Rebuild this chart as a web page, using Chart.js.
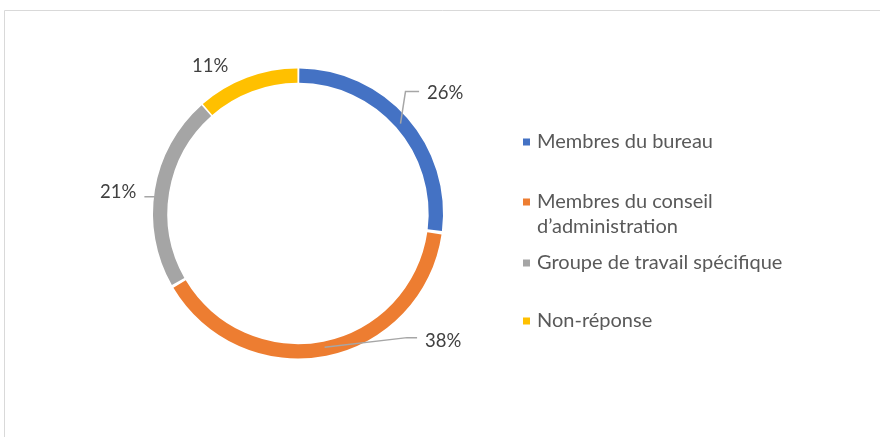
<!DOCTYPE html>
<html>
<head>
<meta charset="utf-8">
<script src="https://cdn.jsdelivr.net/npm/chart.js@4"></script>
<style>
    html, body { margin: 0; padding: 0; background: #fff; }
    #wrap { width: 880px; height: 437px; position: relative; }
</style>
</head>
<body>
<div id="wrap"><canvas id="donutChart"></canvas></div>
<script>
// Chart data
const categories = ['Membres du bureau', 'Membres du conseil d\u2019administration', 'Groupe de travail sp\u00e9cifique', 'Non-r\u00e9ponse'];
const percentValues = [26, 38, 21, 11];
const sliceColors = ['#4472C4', '#ED7D31', '#A5A5A5', '#FFC000'];

// Label placement (polar: angle from top, clockwise, and distance from center)
const labelAngles = [50.8, 131.2, 276.7, 329.3];
const labelRadius = [190, 193, 181, 172];
const leaderStyle = ['elbow', 'straight', 'short', 'none'];

// Legend rows (y of first line for each entry)
const legendX = 523;
const legendRowsY = [142, 202, 263, 321];
const legendLineHeight = 25;
const legendMaxWidth = 262;

const FONT = 'Lato, "Open Sans", sans-serif';

// Draws the frame, data labels with leader lines, and the legend
const decorPlugin = {
    id: 'decor',
    afterDraw(chart) {
        const ctx = chart.ctx;
        const meta = chart.getDatasetMeta(0);

        ctx.save();

        // outer frame
        ctx.strokeStyle = '#D9D9D9';
        ctx.lineWidth = 1;
        ctx.beginPath();
        ctx.moveTo(880, 10.5);
        ctx.lineTo(4.5, 10.5);
        ctx.lineTo(4.5, 437);
        ctx.stroke();

        // data labels
        ctx.font = '18.5px ' + FONT;
        ctx.textBaseline = 'middle';
        ctx.textAlign = 'center';
        meta.data.forEach((arc, i) => {
            const cx = arc.x, cy = arc.y;
            const a = labelAngles[i] * Math.PI / 180;
            const lx = cx + labelRadius[i] * Math.sin(a);
            const ly = cy - labelRadius[i] * Math.cos(a);
            const text = percentValues[i] + '%';
            const w = ctx.measureText(text).width;

            // leader line
            const midAngle = (arc.startAngle + arc.endAngle) / 2;
            const midR = (arc.innerRadius + arc.outerRadius) / 2;
            ctx.strokeStyle = '#A6A6A6';
            ctx.lineWidth = 1.5;
            if (leaderStyle[i] === 'elbow') {
                const px = cx + midR * Math.cos(midAngle);
                const py = cy + midR * Math.sin(midAngle);
                ctx.beginPath();
                ctx.moveTo(px, py);
                ctx.lineTo(px + 5, ly - 2);
                ctx.lineTo(lx - w / 2 - 8, ly - 2);
                ctx.stroke();
            } else if (leaderStyle[i] === 'straight') {
                const px = cx + midR * Math.cos(midAngle);
                const py = cy + midR * Math.sin(midAngle);
                ctx.beginPath();
                ctx.moveTo(px, py);
                ctx.lineTo(lx - w / 2 - 18, ly - 3);
                ctx.lineTo(lx - w / 2 - 8, ly - 3);
                ctx.stroke();
            } else if (leaderStyle[i] === 'short') {
                const px = cx + arc.outerRadius * Math.sin(a);
                const py = cy - arc.outerRadius * Math.cos(a);
                ctx.beginPath();
                ctx.moveTo(px, py);
                ctx.lineTo(lx + w / 2 + 8, py);
                ctx.stroke();
            }

            ctx.fillStyle = '#404040';
            ctx.fillText(text, lx, ly);
        });

        // legend
        ctx.font = '20px ' + FONT;
        ctx.textAlign = 'left';
        categories.forEach((label, i) => {
            // wrap words within max width
            const words = label.split(' ');
            const lines = [];
            let line = '';
            words.forEach(word => {
                const test = line ? line + ' ' + word : word;
                if (ctx.measureText(test).width > legendMaxWidth && line) {
                    lines.push(line);
                    line = word;
                } else {
                    line = test;
                }
            });
            lines.push(line);

            const y = legendRowsY[i];
            ctx.fillStyle = sliceColors[i];
            ctx.fillRect(legendX, y - 3.5, 7, 7);
            ctx.fillStyle = '#595959';
            lines.forEach((l, k) => {
                ctx.fillText(l, legendX + 14, y + k * legendLineHeight);
            });
        });

        ctx.restore();
    }
};

const ctx = document.getElementById('donutChart').getContext('2d');
window.donutChart = new Chart(ctx, {
    type: 'doughnut',
    data: {
        labels: categories,
        datasets: [{
            data: percentValues,
            backgroundColor: sliceColors,
            borderWidth: 0,
            spacing: 3
        }]
    },
    options: {
        responsive: true,
        maintainAspectRatio: false,
        animation: false,
        cutout: '90%',
        layout: {
            padding: {
                top: 68,
                left: 153,
                right: 437,
                bottom: 78
            }
        },
        plugins: {
            legend: { display: false },
            tooltip: { enabled: false }
        }
    },
    plugins: [decorPlugin]
});
</script>
</body>
</html>
